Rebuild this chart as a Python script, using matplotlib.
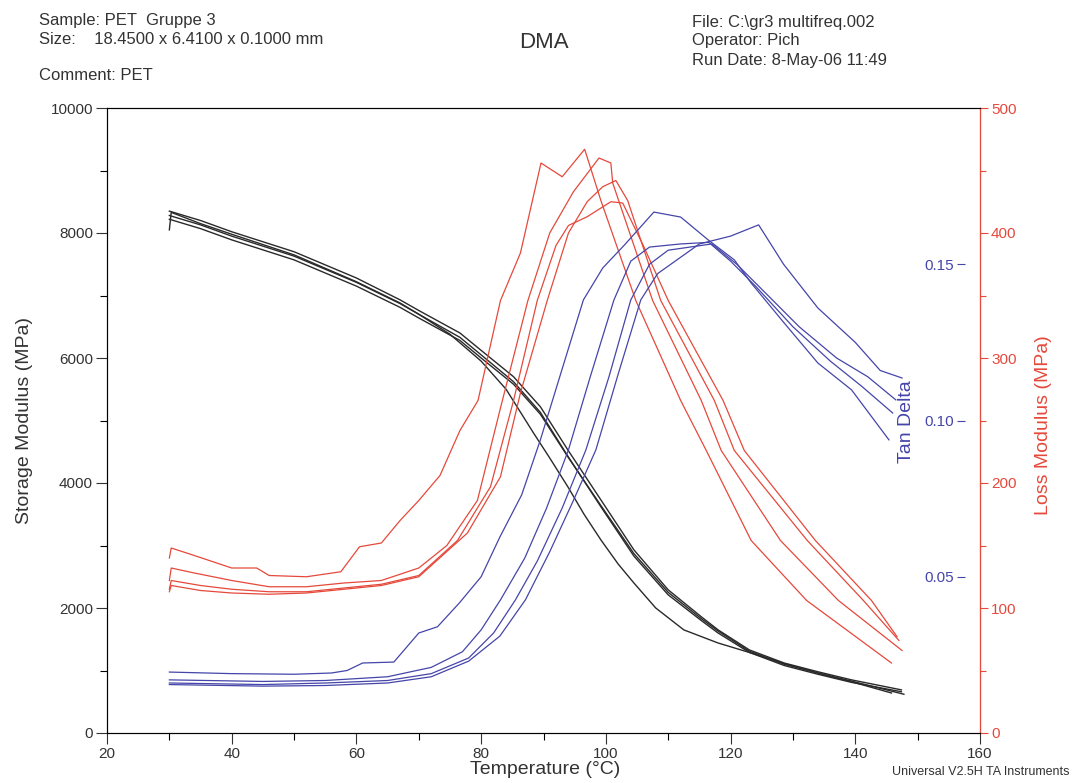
import matplotlib
matplotlib.use("Agg")
import matplotlib.pyplot as plt
from matplotlib.ticker import MultipleLocator

plt.rcParams['font.family'] = ['Liberation Sans', 'DejaVu Sans']

# storage modulus (MPa), 4 runs
s1_t = [30, 30.3, 35, 40, 50, 60, 67, 70, 75, 80, 84, 88.4, 91, 93.9, 96.5, 99.2, 102, 104.5, 108, 112.5, 118, 123.3, 128.6, 134, 139.4, 145.8]
s1_v = [8050, 8330, 8150, 7980, 7650, 7220, 6880, 6700, 6380, 5950, 5500, 4800, 4400, 3940, 3500, 3090, 2700, 2400, 2000, 1650, 1440, 1280, 1110, 960, 820, 640]
s2_t = [30, 35, 40, 50, 60, 63.8, 67, 70, 76.6, 79.9, 85.2, 89.5, 93.9, 99.2, 104.5, 110, 115.3, 118, 123, 128.6, 134, 139.4, 147.4]
s2_v = [8350, 8200, 8020, 7700, 7280, 7090, 6930, 6760, 6400, 6130, 5700, 5220, 4530, 3730, 2930, 2290, 1860, 1650, 1330, 1120, 980, 850, 690]
s3_t = [30, 35, 40, 50, 60, 67, 70, 76.6, 80, 85.2, 89.5, 93.9, 99.2, 104.5, 110, 115.3, 118, 123, 128.6, 134, 139.4, 147.4]
s3_v = [8280, 8130, 7950, 7630, 7210, 6870, 6700, 6330, 6050, 5620, 5130, 4430, 3620, 2830, 2210, 1800, 1600, 1290, 1080, 940, 810, 660]
s4_t = [30, 35, 40, 50, 60, 67, 70, 76.6, 80, 85.2, 89.5, 93.9, 99.2, 104.5, 110, 115.3, 118, 123, 128.6, 134, 139.4, 147.8]
s4_v = [8220, 8070, 7890, 7570, 7150, 6810, 6640, 6280, 6000, 5580, 5100, 4420, 3640, 2870, 2250, 1830, 1630, 1310, 1100, 960, 830, 620]

# loss modulus (MPa)
r1_t = [30, 30.3, 34, 40, 44, 46, 52, 57.5, 60.5, 64, 67, 70, 73.4, 76.6, 79.5, 83.1, 86.3, 89.6, 93, 96.6, 99.2, 104.8, 112, 116.1, 123.3, 132.2, 145.8]
r1_v = [140, 148, 142, 132, 132, 126, 125, 129, 149, 152, 170, 186, 206, 242, 266, 346, 384, 456, 445, 467, 426, 346, 266, 226, 154, 106, 56]
r2_t = [30, 30.3, 34, 40, 46, 52, 58, 64, 70, 74.5, 79.4, 83.1, 87.5, 91, 94.8, 98.9, 100.8, 101.1, 107.5, 115.3, 118.5, 128, 137.3, 147.5]
r2_v = [122, 132, 128, 122, 117, 117, 120, 122, 132, 150, 186, 260, 346, 400, 433, 460, 456, 440, 346, 266, 226, 154, 106, 66]
r3_t = [30, 30.3, 35, 40, 46, 52, 58, 64, 70, 76.2, 81.5, 85.2, 89, 92, 94, 97, 100.8, 102.7, 106, 110, 118.8, 122.2, 133.6, 142.6, 146.7]
r3_v = [115, 122, 118, 115, 113, 113, 116, 119, 126, 154, 197, 266, 346, 390, 406, 413, 425, 424, 390, 346, 266, 226, 154, 106, 77]
r4_t = [30, 30.3, 35, 40, 46, 52, 58, 64, 70, 77.8, 83.1, 86.3, 90.6, 94, 97, 99.5, 101.6, 103.5, 108.8, 117.4, 120.6, 132.3, 141.3, 147]
r4_v = [113, 118, 114, 112, 111, 112, 115, 118, 125, 160, 205, 272, 346, 400, 425, 437, 442, 426, 346, 266, 226, 154, 106, 74]

# tan delta
b1_t = [30, 40, 50, 56, 58.5, 61, 66, 70, 73, 76.5, 80, 83, 86.5, 89.5, 92.7, 96.4, 99.5, 103, 107.7, 112, 116.4, 120.6, 123.3, 128.6, 134, 139.4, 145.4]
b1_v = [0.0195, 0.019, 0.0188, 0.0192, 0.020, 0.0224, 0.0227, 0.032, 0.034, 0.0416, 0.050, 0.0627, 0.0762, 0.0938, 0.1146, 0.1386, 0.1488, 0.1562, 0.1667, 0.1651, 0.1578, 0.1514, 0.144, 0.1312, 0.1184, 0.1098, 0.0938]
b2_t = [30, 45, 55, 65, 72, 77, 80, 83.1, 87, 90.5, 94, 97.5, 101.3, 104, 107, 112, 116.5, 120, 124, 130, 136, 141, 146]
b2_v = [0.017, 0.0165, 0.0168, 0.018, 0.021, 0.026, 0.033, 0.0426, 0.056, 0.072, 0.0906, 0.114, 0.1386, 0.151, 0.1555, 0.1565, 0.157, 0.151, 0.143, 0.130, 0.119, 0.111, 0.1024]
b3_t = [30, 45, 55, 65, 72, 78, 82, 85.5, 89, 93, 96.8, 100.5, 104, 107, 110, 117, 121, 125, 131, 137, 142, 146.5]
b3_v = [0.016, 0.0155, 0.016, 0.0168, 0.019, 0.024, 0.032, 0.0426, 0.055, 0.072, 0.0906, 0.114, 0.1386, 0.150, 0.1545, 0.1565, 0.150, 0.142, 0.130, 0.120, 0.114, 0.1066]
b4_t = [30, 45, 55, 65, 72, 78, 83, 87.1, 91, 94.7, 98.4, 102, 105.6, 108.3, 115, 120, 124.5, 128.5, 134, 140, 144, 147.5]
b4_v = [0.0155, 0.015, 0.0152, 0.016, 0.018, 0.023, 0.031, 0.0426, 0.058, 0.074, 0.0906, 0.115, 0.1386, 0.147, 0.1565, 0.159, 0.1626, 0.150, 0.136, 0.125, 0.116, 0.1136]

black = '#2a2a2a'
red = '#e5493b'
blue = '#4545aa'
grey = '#333333'

fig = plt.figure(figsize=(10.74, 7.83), dpi=100)
ax = fig.add_axes([107/1074, 50/783, 873/1074, 625/783])
ax2 = ax.twinx()
ax3 = ax.twinx()

for t, v in [(s1_t, s1_v), (s2_t, s2_v), (s3_t, s3_v), (s4_t, s4_v)]:
    ax.plot(t, v, color=black, lw=1.0)
for t, v in [(r1_t, r1_v), (r2_t, r2_v), (r3_t, r3_v), (r4_t, r4_v)]:
    ax2.plot(t, v, color=red, lw=0.9)
for t, v in [(b1_t, b1_v), (b2_t, b2_v), (b3_t, b3_v), (b4_t, b4_v)]:
    ax3.plot(t, v, color=blue, lw=0.9)

ax.set_xlim(20, 160)
ax.set_ylim(0, 10000)
ax2.set_ylim(0, 500)
ax3.set_ylim(0, 0.2)

fs = 11
ax.xaxis.set_major_locator(MultipleLocator(20))
ax.xaxis.set_minor_locator(MultipleLocator(10))
ax.yaxis.set_major_locator(MultipleLocator(2000))
ax.yaxis.set_minor_locator(MultipleLocator(1000))
ax.tick_params(which='major', length=8, width=0.8, pad=2, labelsize=fs, colors=grey)
ax.tick_params(which='minor', length=5, width=0.8)

ax2.yaxis.set_major_locator(MultipleLocator(100))
ax2.yaxis.set_minor_locator(MultipleLocator(50))
ax2.tick_params(which='major', length=6, width=0.8, pad=2, labelsize=fs, colors=red)
ax2.tick_params(which='minor', length=4, width=0.8, colors=red)
ax2.spines['right'].set_color(red)

ax3.yaxis.set_ticks_position('left')
ax3.spines['left'].set_position(('axes', (965 - 107) / 873))
for sp in ax3.spines.values():
    sp.set_visible(False)
ax3.set_yticks([0.05, 0.10, 0.15])
ax3.set_yticklabels(['0.05', '0.10', '0.15'])
ax3.tick_params(axis='y', length=6, width=0.8, pad=2, labelsize=fs, colors=blue)

for a in (ax, ax2, ax3):
    a.patch.set_visible(False)
for name in ('left', 'bottom', 'top'):
    ax.spines[name].set_color(black)

def head(x, y, s, **kw):
    kw.setdefault('color', grey)
    fig.text(x / 1074, 1 - y / 783, s, va='center', **kw)

# axis titles
head(545, 770, 'Temperature (°C)', fontsize=14, ha='center')
head(25, 421, 'Storage Modulus (MPa)', fontsize=14, ha='center', rotation=90)
head(1044, 425, 'Loss Modulus (MPa)', fontsize=14, ha='center', rotation=90, color=red)
head(906, 422, 'Tan Delta', fontsize=14, ha='center', rotation=90, color=blue)

# header block
head(39, 21, 'Sample: PET  Gruppe 3', fontsize=12)
head(39, 40, 'Size:    18.4500 x 6.4100 x 0.1000 mm', fontsize=12)
head(39, 76, 'Comment: PET', fontsize=12)
head(544, 42, 'DMA', fontsize=16, ha='center')
head(692, 22, 'File: C:\\gr3 multifreq.002', fontsize=12)
head(692, 41, 'Operator: Pich', fontsize=12)
head(692, 60, 'Run Date: 8-May-06 11:49', fontsize=12)
head(1070, 772, 'Universal V2.5H TA Instruments', fontsize=9, ha='right')

fig.savefig('out.png', dpi=100)
